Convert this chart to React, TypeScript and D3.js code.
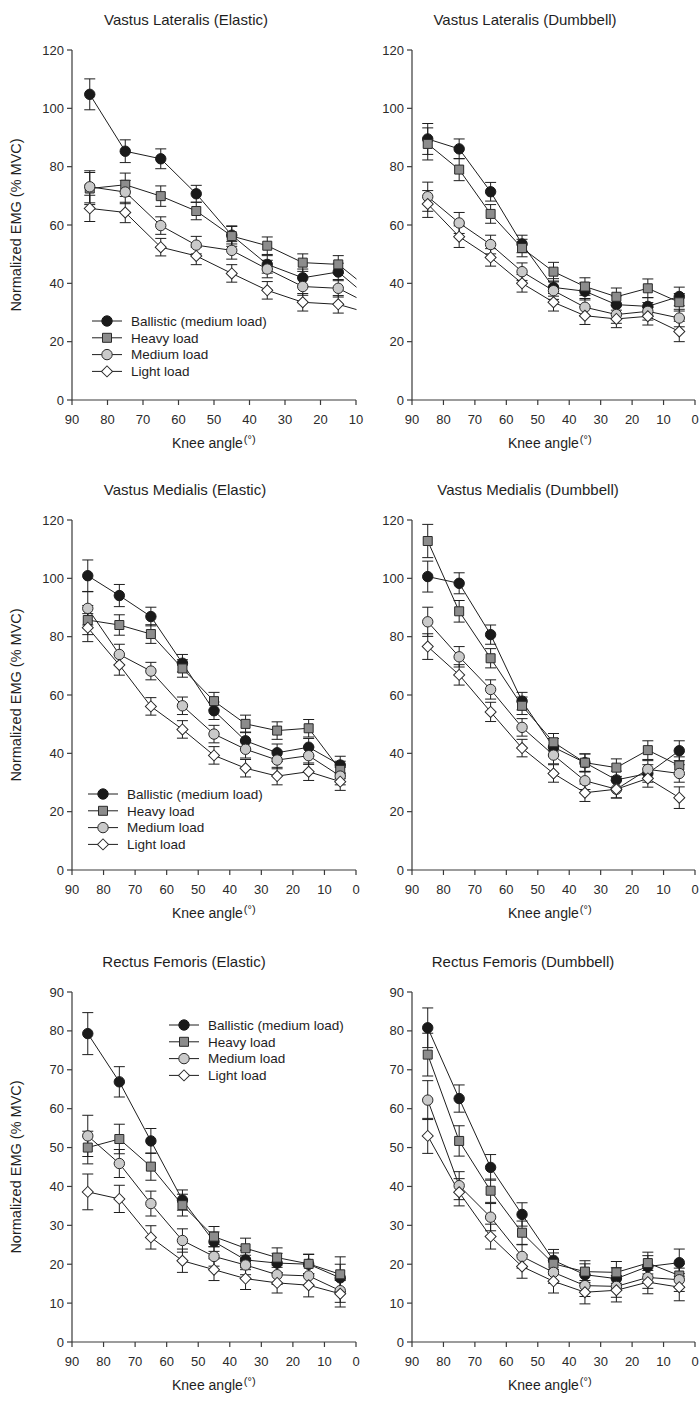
import React from 'react';
import * as d3 from 'd3';

const angles = [85, 75, 65, 55, 45, 35, 25, 15, 5];
const seriesNames = ['Ballistic (medium load)', 'Heavy load', 'Medium load', 'Light load'];
const panelTitles = [
  'Vastus Lateralis (Elastic)', 'Vastus Lateralis (Dumbbell)',
  'Vastus Medialis (Elastic)', 'Vastus Medialis (Dumbbell)',
  'Rectus Femoris (Elastic)', 'Rectus Femoris (Dumbbell)',
];
const xTicksShort = [90, 80, 70, 60, 50, 40, 30, 20, 10];
const xTicksFull = [90, 80, 70, 60, 50, 40, 30, 20, 10, 0];
const yTicksVastus = [0, 20, 40, 60, 80, 100, 120];
const yTicksRF = [0, 10, 20, 30, 40, 50, 60, 70, 80, 90];

// Vastus Lateralis – Elastic
const vlElBal = [104.8, 85.3, 82.7, 70.7, 56.5, 46.5, 41.9, 43.9, 33.7];
const vlElBalErr = [5.3, 3.9, 3.4, 2.9, 3.0, 3.0, 3.0, 3.0, 3.0];
const vlElHeavy = [72.5, 73.8, 69.9, 64.8, 56.2, 52.9, 47.1, 46.5, 36.7];
const vlElHeavyErr = [5.5, 4.0, 3.5, 3.0, 3.5, 3.0, 3.0, 3.0, 3.0];
const vlElMed = [73.1, 71.3, 59.8, 53.1, 51.3, 44.9, 38.9, 38.3, 32.1];
const vlElMedErr = [5.5, 4.0, 3.0, 3.0, 3.0, 3.0, 3.0, 3.0, 3.0];
const vlElLight = [65.7, 64.3, 52.4, 49.4, 43.4, 37.6, 33.5, 32.8, 29.3];
const vlElLightErr = [4.5, 3.5, 3.0, 3.0, 3.0, 3.0, 3.0, 3.0, 3.0];

// Vastus Lateralis – Dumbbell
const vlDbBal = [89.5, 86.1, 71.4, 53.5, 38.6, 37.3, 32.7, 32.1, 35.5];
const vlDbBalErr = [5.3, 3.4, 3.2, 3.0, 3.0, 3.0, 3.0, 3.0, 3.2];
const vlDbHeavy = [87.8, 79.0, 63.8, 52.1, 44.0, 38.9, 35.4, 38.3, 33.5];
const vlDbHeavyErr = [5.5, 3.8, 3.2, 3.0, 3.2, 3.0, 3.0, 3.2, 3.0];
const vlDbMed = [69.7, 60.7, 53.3, 44.0, 37.5, 31.8, 29.3, 30.4, 28.1];
const vlDbMedErr = [5.0, 3.6, 3.2, 3.0, 3.0, 3.0, 3.0, 3.0, 3.0];
const vlDbLight = [67.2, 56.0, 48.9, 40.0, 33.5, 28.9, 27.8, 28.7, 23.5];
const vlDbLightErr = [4.6, 3.7, 3.0, 3.0, 3.0, 3.0, 3.0, 3.0, 3.5];

// Vastus Medialis – Elastic
const vmElBal = [100.9, 94.1, 86.9, 70.9, 54.6, 44.3, 40.2, 42.1, 36.0];
const vmElBalErr = [5.4, 3.8, 3.2, 3.0, 3.0, 3.0, 3.0, 3.0, 3.0];
const vmElHeavy = [85.7, 84.0, 80.9, 69.1, 57.9, 50.1, 47.8, 48.6, 34.3];
const vmElHeavyErr = [5.0, 3.5, 3.2, 3.0, 3.0, 3.0, 3.0, 3.0, 3.0];
const vmElMed = [89.7, 73.9, 68.2, 56.3, 46.6, 41.4, 37.7, 39.2, 32.2];
const vmElMedErr = [5.7, 3.5, 3.0, 3.0, 3.0, 3.0, 3.0, 3.0, 3.0];
const vmElLight = [83.1, 70.3, 56.1, 48.2, 39.3, 34.9, 32.2, 33.7, 30.3];
const vmElLightErr = [4.8, 3.5, 3.0, 3.0, 3.0, 3.0, 3.0, 3.0, 3.0];

// Vastus Medialis – Dumbbell
const vmDbBal = [100.6, 98.3, 80.7, 57.9, 42.1, 36.8, 30.9, 33.1, 40.9];
const vmDbBalErr = [5.3, 3.6, 3.3, 3.0, 3.0, 3.0, 3.0, 3.0, 3.4];
const vmDbHeavy = [112.8, 88.7, 72.6, 56.3, 43.8, 36.8, 35.1, 41.1, 35.8];
const vmDbHeavyErr = [5.7, 3.7, 3.3, 3.0, 3.0, 3.0, 3.0, 3.2, 3.0];
const vmDbMed = [85.1, 73.1, 61.9, 48.9, 39.4, 30.6, 27.7, 34.5, 33.1];
const vmDbMedErr = [5.0, 3.5, 3.3, 3.0, 3.0, 3.0, 3.0, 3.0, 3.0];
const vmDbLight = [76.6, 66.9, 54.2, 41.8, 33.1, 26.5, 27.7, 31.4, 24.8];
const vmDbLightErr = [4.4, 3.5, 3.3, 3.0, 3.0, 3.0, 3.0, 3.0, 3.7];

// Rectus Femoris – Elastic
const rfElBal = [79.3, 66.9, 51.7, 36.5, 25.8, 21.1, 20.3, 20.0, 16.5];
const rfElBalErr = [5.4, 3.9, 3.2, 2.6, 2.5, 2.5, 2.5, 2.5, 3.5];
const rfElHeavy = [50.0, 52.2, 45.1, 35.2, 27.1, 24.1, 21.7, 20.1, 17.4];
const rfElHeavyErr = [4.2, 3.8, 3.5, 2.8, 2.6, 2.6, 2.5, 2.5, 4.5];
const rfElMed = [53.0, 45.9, 35.6, 26.1, 22.0, 19.8, 17.3, 17.0, 13.2];
const rfElMedErr = [5.3, 3.6, 3.2, 3.0, 2.5, 2.5, 2.5, 2.5, 3.0];
const rfElLight = [38.6, 36.8, 26.9, 20.9, 18.6, 16.3, 15.2, 14.6, 12.4];
const rfElLightErr = [4.6, 3.5, 3.0, 3.0, 2.8, 2.8, 2.6, 3.0, 3.4];

// Rectus Femoris – Dumbbell
const rfDbBal = [80.8, 62.6, 44.9, 32.8, 21.0, 17.3, 16.3, 19.4, 20.4];
const rfDbBalErr = [5.1, 3.5, 3.3, 3.0, 2.8, 2.8, 2.8, 2.8, 3.5];
const rfDbHeavy = [73.9, 51.7, 38.9, 28.1, 20.1, 18.1, 17.9, 20.3, 17.1];
const rfDbHeavyErr = [5.5, 3.9, 3.0, 3.0, 2.8, 2.8, 2.8, 2.8, 3.0];
const rfDbMed = [62.2, 40.2, 32.1, 22.0, 17.9, 14.5, 14.3, 16.6, 16.0];
const rfDbMedErr = [5.0, 3.6, 3.5, 3.0, 2.8, 2.8, 2.8, 2.8, 3.0];
const rfDbLight = [53.0, 38.5, 27.1, 19.4, 15.6, 12.8, 13.3, 15.4, 14.1];
const rfDbLightErr = [4.5, 3.5, 3.2, 3.0, 3.0, 3.0, 3.0, 3.0, 3.5];

const FONT = '"Liberation Sans", Arial, Helvetica, sans-serif';
const AXIS = '#3a3a3a';
const INK = '#1e1e1e';

type Series = { values: number[]; errs: number[] };

const markerStyles = [
  { shape: 'circle', fill: '#1a1a1a', stroke: '#1a1a1a' },
  { shape: 'square', fill: '#8c8c8c', stroke: '#2a2a2a' },
  { shape: 'circle', fill: '#cacaca', stroke: '#2a2a2a' },
  { shape: 'diamond', fill: '#ffffff', stroke: '#2a2a2a' },
];

const circlePath = d3.symbol().type(d3.symbolCircle).size(Math.PI * 5.2 * 5.2)()!;
const squarePath = d3.symbol().type(d3.symbolSquare).size(9 * 9)()!;
const diamondPath = d3.symbol().type(d3.symbolSquare).size(7.8 * 7.8)()!;

function Marker({ idx, x, y }: { idx: number; x: number; y: number }) {
  const st = markerStyles[idx];
  const d = st.shape === 'circle' ? circlePath : st.shape === 'square' ? squarePath : diamondPath;
  const rot = st.shape === 'diamond' ? ' rotate(45)' : '';
  return <path d={d} transform={`translate(${x},${y})${rot}`} fill={st.fill} stroke={st.stroke} strokeWidth={1} />;
}

type PanelProps = {
  id: string;
  title: string;
  titleX: number;
  x0: number;
  x1: number;
  xDomain: [number, number];
  xTicks: number[];
  y0: number;
  y1: number;
  yMax: number;
  yTicks: number[];
  series: Series[];
  showYTitle: boolean;
  legend?: { x: number; y: number };
  labelX: number;
};

function Panel(p: PanelProps) {
  const xs = d3.scaleLinear().domain(p.xDomain).range([p.x0, p.x1]);
  const ys = d3.scaleLinear().domain([0, p.yMax]).range([p.y0, p.y1]);
  const line = d3.line<number>().x((_, i) => xs(angles[i])).y((v) => ys(v));
  const cap = 5.5;
  return (
    <g>
      <defs>
        <clipPath id={p.id}>
          <rect x={p.x0 - 10} y={p.y1 - 20} width={p.x1 - p.x0 + 10.5} height={p.y0 - p.y1 + 30} />
        </clipPath>
      </defs>
      <text x={p.titleX} y={p.y1 - 25} textAnchor="middle" fontSize={15} fill={INK} fontFamily={FONT}>{p.title}</text>
      {p.showYTitle && (
        <text transform={`translate(17,${(p.y0 + p.y1) / 2}) rotate(-90)`} textAnchor="middle" dominantBaseline="middle" fontSize={14.5} fill={INK} fontFamily={FONT}>
          Normalized EMG (% MVC)
        </text>
      )}
      <line x1={p.x0} x2={p.x0} y1={p.y0} y2={p.y1} stroke={AXIS} strokeWidth={1.2} />
      <line x1={p.x0} x2={p.x1} y1={p.y0} y2={p.y0} stroke={AXIS} strokeWidth={1.2} />
      {p.yTicks.map((t) => (
        <g key={'y' + t}>
          <line x1={p.x0 - 5} x2={p.x0} y1={ys(t)} y2={ys(t)} stroke={AXIS} strokeWidth={1.2} />
          <text x={p.x0 - 8} y={ys(t)} dy="0.35em" textAnchor="end" fontSize={13} fill="#2a2a2a" fontFamily={FONT}>{t}</text>
        </g>
      ))}
      {p.xTicks.map((t) => (
        <g key={'x' + t}>
          <line x1={xs(t)} x2={xs(t)} y1={p.y0} y2={p.y0 + 5} stroke={AXIS} strokeWidth={1.2} />
          <text x={xs(t)} y={p.y0 + 19} dy="0.35em" textAnchor="middle" fontSize={13} fill="#2a2a2a" fontFamily={FONT}>{t}</text>
        </g>
      ))}
      <text x={p.labelX} y={p.y0 + 48} fontSize={14} fill={INK} fontFamily={FONT}>
        Knee angle
        <tspan fontSize={11} dy={-5} dx={1}>(°)</tspan>
      </text>
      <g clipPath={`url(#${p.id})`}>
        {p.series.map((s, si) => (
          <path key={'l' + si} d={line(s.values)!} fill="none" stroke={INK} strokeWidth={1} />
        ))}
        {p.series.map((s, si) =>
          s.values.map((v, i) => {
            const x = xs(angles[i]);
            const yt = ys(v + s.errs[i]);
            const yb = ys(v - s.errs[i]);
            return (
              <g key={`e${si}-${i}`} stroke={INK} strokeWidth={1}>
                <line x1={x} x2={x} y1={yt} y2={yb} />
                <line x1={x - cap} x2={x + cap} y1={yt} y2={yt} />
                <line x1={x - cap} x2={x + cap} y1={yb} y2={yb} />
              </g>
            );
          })
        )}
        {p.series.map((s, si) =>
          s.values.map((v, i) => <Marker key={`m${si}-${i}`} idx={si} x={xs(angles[i])} y={ys(v)} />)
        )}
      </g>
      {p.legend && (
        <g>
          {seriesNames.map((n, i) => {
            const ly = p.legend!.y + i * 16.8;
            return (
              <g key={n}>
                <line x1={p.legend!.x} x2={p.legend!.x + 30} y1={ly} y2={ly} stroke={INK} strokeWidth={1} />
                <Marker idx={i} x={p.legend!.x + 15} y={ly} />
                <text x={p.legend!.x + 39} y={ly} dy="0.35em" fontSize={13.5} fill={INK} fontFamily={FONT}>{n}</text>
              </g>
            );
          })}
        </g>
      )}
    </g>
  );
}

export default function App() {
  const L = { x0: 72, x1: 356 };
  const R = { x0: 412, x1: 695 };
  const rows = [
    { y0: 400, y1: 50 },
    { y0: 870, y1: 520 },
    { y0: 1342, y1: 992 },
  ];
  const mk = (values: number[], errs: number[]): Series => ({ values, errs });
  return (
    <svg width={700} height={1401} style={{ position: 'absolute', left: 0, top: 0, background: '#fff' }}>
      <rect width={700} height={1401} fill="#fff" />
      <Panel id="c1" title={panelTitles[0]} titleX={186} {...L} xDomain={[90, 10]} xTicks={xTicksShort} {...rows[0]} yMax={120} yTicks={yTicksVastus}
        series={[mk(vlElBal, vlElBalErr), mk(vlElHeavy, vlElHeavyErr), mk(vlElMed, vlElMedErr), mk(vlElLight, vlElLightErr)]}
        showYTitle legend={{ x: 92, y: 321 }} labelX={172} />
      <Panel id="c2" title={panelTitles[1]} titleX={525} {...R} xDomain={[90, 0]} xTicks={xTicksFull} {...rows[0]} yMax={120} yTicks={yTicksVastus}
        series={[mk(vlDbBal, vlDbBalErr), mk(vlDbHeavy, vlDbHeavyErr), mk(vlDbMed, vlDbMedErr), mk(vlDbLight, vlDbLightErr)]}
        showYTitle={false} labelX={508} />
      <Panel id="c3" title={panelTitles[2]} titleX={185} {...L} xDomain={[90, 0]} xTicks={xTicksFull} {...rows[1]} yMax={120} yTicks={yTicksVastus}
        series={[mk(vmElBal, vmElBalErr), mk(vmElHeavy, vmElHeavyErr), mk(vmElMed, vmElMedErr), mk(vmElLight, vmElLightErr)]}
        showYTitle legend={{ x: 88, y: 794 }} labelX={172} />
      <Panel id="c4" title={panelTitles[3]} titleX={528} {...R} xDomain={[90, 0]} xTicks={xTicksFull} {...rows[1]} yMax={120} yTicks={yTicksVastus}
        series={[mk(vmDbBal, vmDbBalErr), mk(vmDbHeavy, vmDbHeavyErr), mk(vmDbMed, vmDbMedErr), mk(vmDbLight, vmDbLightErr)]}
        showYTitle={false} labelX={508} />
      <Panel id="c5" title={panelTitles[4]} titleX={184} {...L} xDomain={[90, 0]} xTicks={xTicksFull} {...rows[2]} yMax={90} yTicks={yTicksRF}
        series={[mk(rfElBal, rfElBalErr), mk(rfElHeavy, rfElHeavyErr), mk(rfElMed, rfElMedErr), mk(rfElLight, rfElLightErr)]}
        showYTitle legend={{ x: 169, y: 1025 }} labelX={172} />
      <Panel id="c6" title={panelTitles[5]} titleX={523} {...R} xDomain={[90, 0]} xTicks={xTicksFull} {...rows[2]} yMax={90} yTicks={yTicksRF}
        series={[mk(rfDbBal, rfDbBalErr), mk(rfDbHeavy, rfDbHeavyErr), mk(rfDbMed, rfDbMedErr), mk(rfDbLight, rfDbLightErr)]}
        showYTitle={false} labelX={508} />
    </svg>
  );
}
